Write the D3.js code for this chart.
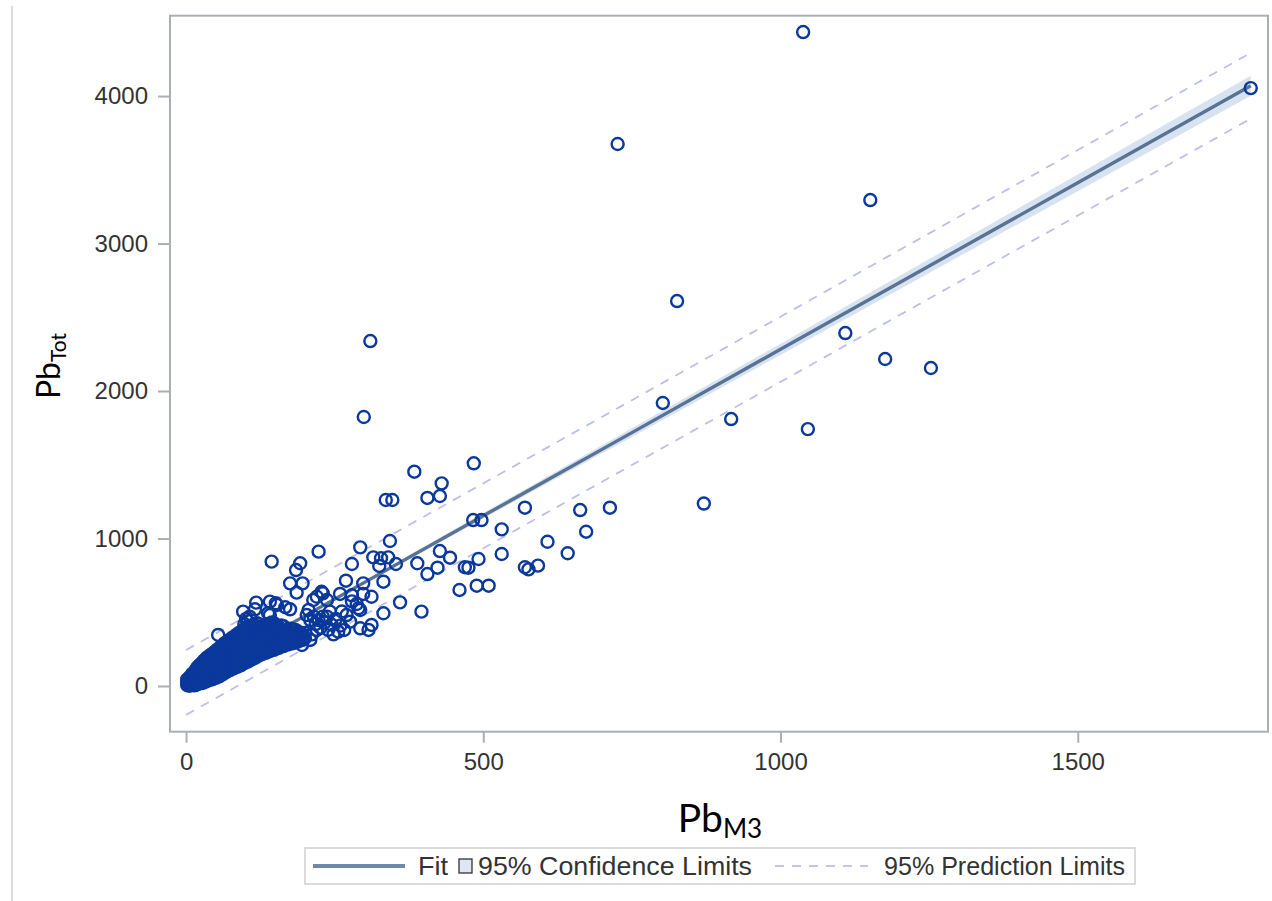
<!DOCTYPE html>
<html>
<head>
<meta charset="utf-8">
<script src="https://cdn.jsdelivr.net/npm/d3@7"></script>
<style>
  html, body { margin: 0; padding: 0; background: #ffffff; }
  svg { display: block; }
</style>
</head>
<body>
<script>
// Observations: Pb measured by Mehlich-3 (x) against total Pb (y)
const pbM3 = [
  // scattered observations
  1038, 1791, 726, 1151, 826, 1109, 1176, 1253, 310, 299, 802, 917, 1046, 871,
  384, 484, 430, 406, 427, 336, 347, 570, 483, 497, 531, 343, 293, 223, 427, 444,
  492, 531, 315, 328, 340, 279, 325, 353, 389, 406, 423, 469, 475, 570, 576, 592,
  269, 298, 332, 460, 489, 509, 230, 259, 279, 298, 312, 360, 396, 332, 287, 290,
  242, 270, 276, 312, 293, 256, 239, 214, 220, 663, 713, 673, 608, 642, 144, 192,
  185, 175, 196, 186, 228, 96, 118, 116, 141, 151, 138, 167, 175, 54, 206, 195,
  209, 307, 209, 220, 192, 223, 237, 141, 153, 279, 293, 237, 203,
  212, 218, 226, 233, 245, 252, 260, 266, 248, 230, 215, 262,
  // dense low-concentration group
  2, 2, 2, 2,
  6, 6, 6, 6, 6,
  10, 10, 10, 10, 10,
  14, 14, 14, 14, 14, 14,
  18, 18, 18, 18, 18, 18,
  23, 23, 23, 23, 23, 23,
  28, 28, 28, 28, 28, 28,
  33, 33, 33, 33, 33, 33,
  38, 38, 38, 38, 38, 38,
  44, 44, 44, 44, 44, 44,
  50, 50, 50, 50, 50, 50,
  56, 56, 56, 56, 56, 56,
  62, 62, 62, 62, 62, 62,
  68, 68, 68, 68, 68, 68,
  74, 74, 74, 74, 74, 74,
  80, 80, 80, 80, 80, 80,
  86, 86, 86, 86, 86, 86,
  92, 92, 92, 92, 92, 92,
  98, 98, 98, 98, 98, 98, 98,
  104, 104, 104, 104, 104, 104, 104,
  110, 110, 110, 110, 110, 110,
  116, 116, 116, 116, 116, 116,
  122, 122, 122, 122, 122, 122,
  128, 128, 128, 128, 128,
  134, 134, 134, 134, 134,
  140, 140, 140, 140, 140,
  148, 148, 148, 148, 148,
  156, 156, 156, 156,
  164, 164, 164, 164,
  172, 172, 172,
  180, 180, 180,
  188, 188, 188,
  196, 196,
  4, 4, 4,
  8, 8, 8, 8,
  12, 12, 12, 12, 12,
  16, 16, 16, 16, 16, 16,
  20, 20, 20, 20, 20, 20,
  25, 25, 25, 25, 25, 25,
  30, 30, 30, 30, 30, 30,
  35, 35, 35, 35, 35, 35,
  41, 41, 41, 41, 41, 41,
  47, 47, 47, 47, 47, 47,
  53, 53, 53, 53, 53, 53,
  59, 59, 59, 59, 59, 59,
  65, 65, 65, 65, 65, 65,
  71, 71, 71, 71, 71, 71,
  77, 77, 77, 77, 77, 77,
  83, 83, 83, 83, 83, 83,
  89, 89, 89, 89, 89, 89,
  95, 95, 95, 95, 95, 95,
  101, 101, 101, 101, 101, 101, 101,
  107, 107, 107, 107, 107, 107, 107,
  113, 113, 113, 113, 113, 113,
  119, 119, 119, 119, 119, 119,
  125, 125, 125, 125, 125,
  131, 131, 131, 131, 131,
  137, 137, 137, 137, 137,
  144, 144, 144, 144, 144,
  152, 152, 152, 152,
  160, 160, 160, 160,
  168, 168, 168,
  176, 176, 176,
  184, 184, 184,
  192, 192,
  200, 200
];
const pbTot = [
  4434, 4054, 3675, 3295, 2610, 2393, 2217, 2156, 2339, 1824, 1919, 1810, 1742, 1237,
  1453, 1510, 1374, 1275, 1288, 1261, 1261, 1209, 1125, 1125, 1062, 983, 940, 911, 915, 870,
  861, 895, 872, 866, 872, 827, 814, 827, 832, 759, 802, 805, 802, 805, 791, 816,
  714, 696, 707, 651, 680, 680, 628, 624, 615, 624, 605, 567, 504, 493, 556, 527,
  504, 481, 436, 414, 391, 368, 380, 583, 605, 1193, 1209, 1046, 978, 900, 843, 832,
  786, 696, 696, 633, 639, 504, 565, 520, 572, 561, 493, 534, 520, 346, 515, 278,
  312, 380, 447, 380, 357, 447, 470, 481, 549, 574, 515, 583, 481,
  350, 420, 395, 430, 415, 455, 410, 380, 350, 470, 470, 505,
  5, 18, 30, 45,
  2, 12, 25, 40, 60,
  8, 20, 35, 55, 80,
  4, 15, 30, 48, 70, 95,
  10, 25, 42, 62, 88, 120,
  18, 35, 55, 78, 105, 140,
  20, 42, 66, 92, 125, 160,
  30, 52, 78, 108, 145, 180,
  38, 62, 90, 122, 160, 200,
  45, 72, 102, 138, 175, 215,
  55, 85, 118, 152, 190, 235,
  65, 98, 132, 168, 210, 255,
  80, 112, 148, 185, 228, 270,
  95, 128, 162, 200, 245, 290,
  108, 142, 178, 218, 262, 305,
  120, 155, 195, 235, 280, 320,
  130, 168, 210, 252, 295, 335,
  140, 180, 222, 265, 310, 350,
  155, 195, 238, 280, 325, 365, 420,
  165, 208, 250, 295, 340, 385, 440,
  180, 222, 265, 310, 355, 400,
  190, 235, 280, 325, 370, 410,
  205, 248, 292, 338, 382, 420,
  215, 260, 305, 350, 395,
  225, 272, 318, 362, 405,
  235, 282, 330, 375, 415,
  245, 295, 342, 388, 425,
  258, 308, 355, 400,
  270, 320, 368, 405,
  282, 330, 378,
  290, 340, 382,
  300, 345, 370,
  312, 350,
  10, 24, 38,
  6, 18, 32, 50,
  12, 26, 42, 62, 85,
  8, 22, 38, 56, 78, 105,
  16, 32, 52, 74, 100, 130,
  26, 46, 68, 92, 120, 150,
  35, 58, 84, 112, 142, 172,
  42, 68, 96, 126, 160, 192,
  50, 78, 110, 142, 178, 210,
  60, 92, 125, 160, 195, 228,
  72, 105, 140, 175, 212, 248,
  85, 118, 155, 192, 230, 268,
  98, 132, 170, 210, 250, 290,
  112, 148, 186, 226, 268, 308,
  125, 162, 200, 242, 285, 325,
  138, 175, 215, 258, 300, 342,
  148, 188, 230, 272, 318, 360,
  160, 200, 245, 288, 332, 378,
  172, 215, 258, 302, 348, 395, 455,
  182, 228, 272, 318, 362, 405, 470,
  195, 240, 285, 330, 375, 415,
  205, 250, 298, 345, 390, 425,
  215, 262, 310, 355, 400,
  228, 275, 322, 368, 410,
  238, 286, 335, 380, 420,
  248, 298, 348, 392, 430,
  262, 312, 360, 405,
  275, 325, 372, 410,
  285, 335, 382,
  295, 345, 388,
  305, 352, 380,
  315, 345,
  325, 360
];

// Fitted regression line and its bands, evaluated at these x values
const bandX  = [0, 250, 500, 750, 1000, 1250, 1500, 1791];
const fitY   = [24, 589, 1154, 1718, 2283, 2848, 3412, 4070];
const ciHalf = [10, 11, 19, 29, 38, 47, 57, 68];
const piHalf = [220, 220, 220, 220, 221, 221, 222, 223];

const xTicks = [0, 500, 1000, 1500];
const yTicks = [0, 1000, 2000, 3000, 4000];
const legendLabels = ["Fit", "95% Confidence Limits", "95% Prediction Limits"];

const W = 1272, H = 901;
const frame = { left: 170, right: 1268, top: 15.7, bottom: 731.7 };

const svg = d3.select("body").append("svg")
  .attr("width", W).attr("height", H)
  .attr("viewBox", `0 0 ${W} ${H}`);

svg.append("rect").attr("width", W).attr("height", H).attr("fill", "#fff");

// thin rule on the left edge of the figure
svg.append("line")
  .attr("x1", 12).attr("x2", 12).attr("y1", 6).attr("y2", H)
  .attr("stroke", "#dcdcdc").attr("stroke-width", 2);

const x = d3.scaleLinear().domain([-27, 1820]).range([frame.left, frame.right]);
const y = d3.scaleLinear().domain([-310, 4545]).range([frame.bottom, frame.top]);

svg.append("clipPath").attr("id", "plotclip")
  .append("rect")
  .attr("x", frame.left).attr("y", frame.top)
  .attr("width", frame.right - frame.left).attr("height", frame.bottom - frame.top);
const plot = svg.append("g").attr("clip-path", "url(#plotclip)");

const bandRows = bandX.map((v, i) => ({ x: v, fit: fitY[i], ci: ciHalf[i], pi: piHalf[i] }));

// confidence band
plot.append("path")
  .datum(bandRows)
  .attr("d", d3.area().x(d => x(d.x)).y0(d => y(d.fit - d.ci)).y1(d => y(d.fit + d.ci)).curve(d3.curveMonotoneX))
  .attr("fill", "#d4e0ef").attr("opacity", 0.9);

// prediction limits
["upper", "lower"].forEach(side => {
  plot.append("path")
    .datum(bandRows)
    .attr("d", d3.line().x(d => x(d.x)).y(d => y(side === "upper" ? d.fit + d.pi : d.fit - d.pi)))
    .attr("fill", "none")
    .attr("stroke", "#bcc0e8").attr("stroke-width", 1.8)
    .attr("stroke-dasharray", "9,8");
});

// fit line
plot.append("path")
  .datum(bandRows)
  .attr("d", d3.line().x(d => x(d.x)).y(d => y(d.fit)))
  .attr("fill", "none")
  .attr("stroke", "#587394").attr("stroke-width", 3.4);

// observations
plot.append("g").selectAll("circle")
  .data(pbM3.map((v, i) => [v, pbTot[i]]))
  .join("circle")
  .attr("cx", d => x(d[0]))
  .attr("cy", d => y(d[1]))
  .attr("r", 6)
  .attr("fill", "none")
  .attr("stroke", "#0a389b")
  .attr("stroke-width", 2.4);

// frame
svg.append("rect")
  .attr("x", frame.left).attr("y", frame.top)
  .attr("width", frame.right - frame.left).attr("height", frame.bottom - frame.top)
  .attr("fill", "none").attr("stroke", "#a9afb5").attr("stroke-width", 2);

const tickFont = "'Liberation Sans', Arial, sans-serif";

// y axis
const yAxis = svg.append("g")
  .attr("transform", `translate(${frame.left},0)`)
  .call(d3.axisLeft(y).tickValues(yTicks).tickSize(12).tickPadding(10).tickFormat(d3.format("d")));
yAxis.select(".domain").remove();
yAxis.selectAll(".tick line").attr("stroke", "#a9afb5").attr("stroke-width", 2);
yAxis.selectAll(".tick text")
  .attr("fill", "#333").attr("font-family", tickFont).attr("font-size", 24);

// x axis
const xAxis = svg.append("g")
  .attr("transform", `translate(0,${frame.bottom})`)
  .call(d3.axisBottom(x).tickValues(xTicks).tickSize(11).tickPadding(10).tickFormat(d3.format("d")));
xAxis.select(".domain").remove();
xAxis.selectAll(".tick line").attr("stroke", "#a9afb5").attr("stroke-width", 2);
xAxis.selectAll(".tick text")
  .attr("fill", "#333").attr("font-family", tickFont).attr("font-size", 24);

// axis titles
const titleFont = "Lato, 'Open Sans', sans-serif";
const xt = svg.append("text")
  .attr("x", 720).attr("y", 832)
  .attr("text-anchor", "middle")
  .attr("font-family", titleFont).attr("fill", "#000");
xt.append("tspan").attr("font-size", 39).text("Pb");
xt.append("tspan").attr("font-size", 26).attr("dy", 6).text("M3");

const yt = svg.append("text")
  .attr("transform", "translate(60,366) rotate(-90)")
  .attr("text-anchor", "middle")
  .attr("font-family", titleFont).attr("fill", "#000");
yt.append("tspan").attr("font-size", 32).text("Pb");
yt.append("tspan").attr("font-size", 21).attr("dy", 6).text("Tot");

// legend
const lg = svg.append("g").attr("font-family", tickFont).attr("font-size", 25).attr("fill", "#333");
lg.append("rect")
  .attr("x", 305).attr("y", 848).attr("width", 830).attr("height", 36)
  .attr("fill", "#fff").attr("stroke", "#cfcfcf").attr("stroke-width", 1.5);
lg.append("line")
  .attr("x1", 313).attr("x2", 405).attr("y1", 866).attr("y2", 866)
  .attr("stroke", "#6f88ad").attr("stroke-width", 4);
lg.append("text").attr("x", 418).attr("y", 875)
  .attr("textLength", 30).attr("lengthAdjust", "spacingAndGlyphs")
  .text(legendLabels[0]);
lg.append("rect")
  .attr("x", 459).attr("y", 859).attr("width", 13).attr("height", 14)
  .attr("fill", "#dde6f2").attr("stroke", "#333").attr("stroke-width", 1.3);
lg.append("text").attr("x", 478).attr("y", 875)
  .attr("textLength", 274).attr("lengthAdjust", "spacingAndGlyphs")
  .text(legendLabels[1]);
lg.append("line")
  .attr("x1", 775).attr("x2", 868).attr("y1", 866).attr("y2", 866)
  .attr("stroke", "#c3c6ea").attr("stroke-width", 1.8).attr("stroke-dasharray", "9,8");
lg.append("text").attr("x", 884).attr("y", 875)
  .attr("textLength", 241).attr("lengthAdjust", "spacingAndGlyphs")
  .text(legendLabels[2]);
</script>
</body>
</html>
